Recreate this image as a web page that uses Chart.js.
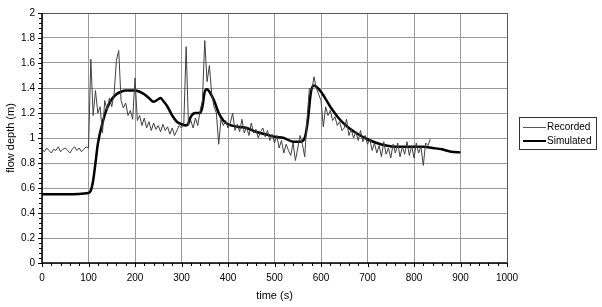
<!DOCTYPE html>
<html>
<head>
<meta charset="utf-8">
<script src="https://cdn.jsdelivr.net/npm/chart.js@4/dist/chart.umd.min.js"></script>
<style>
  body { margin: 0; background: #fff; }
  #wrap { position: relative; width: 602px; height: 307px; }
  #legend {
    position: absolute; left: 519px; top: 117px; width: 76px; height: 31px;
    border: 1px solid #333; font-family: "Liberation Sans", Arial, sans-serif; font-size: 10px; color: #000;
  }
  .row { position: absolute; left: 0; height: 14px; line-height: 14px; }
  .row span.sw { position: absolute; left: 3px; top: 7px; width: 23px; }
  .row span.tx { position: absolute; left: 27px; white-space: nowrap; }
</style>
</head>
<body>
<div id="wrap">
  <canvas id="chart"></canvas>
  <div id="legend">
    <div class="row" style="top:2px"><span class="sw" style="border-top:1px solid #555"></span><span class="tx">Recorded</span></div>
    <div class="row" style="top:16px"><span class="sw" style="border-top:2.5px solid #000;top:6px"></span><span class="tx">Simulated</span></div>
  </div>
</div>
<script>
// recorded flow depth, sampled every 5 s starting at t = 0
const recordedStep = 5;
const recordedDepth = [
  0.91, 0.89, 0.92, 0.90, 0.88, 0.91, 0.90, 0.93, 0.89, 0.91,
  0.92, 0.90, 0.88, 0.91, 0.93, 0.90, 0.92, 0.89, 0.91, 0.93,
  0.92, 1.63, 1.18, 1.38, 1.20, 1.25, 1.04, 1.30, 1.22, 1.32,
  1.25, 1.35, 1.62, 1.70, 1.30, 1.24, 1.28, 1.18, 1.22, 1.15,
  1.48, 1.14, 1.18, 1.10, 1.16, 1.08, 1.13, 1.06, 1.12, 1.07,
  1.10, 1.05, 1.11, 1.06, 1.09, 1.03, 1.08, 1.02, 1.06, 1.10,
  1.08, 1.12, 1.73, 1.10, 1.14, 1.08, 1.16, 1.10, 1.22, 1.30,
  1.78, 1.45, 1.58, 1.35, 1.25, 1.20, 0.95, 1.15, 1.10, 1.14,
  1.08, 1.12, 1.20, 1.06, 1.11, 1.05, 1.15, 1.04, 1.09, 1.02,
  1.12, 1.04, 1.07, 1.00, 1.05, 1.08, 1.01, 1.06, 0.98, 1.03,
  0.96, 1.02, 0.92, 0.98, 0.88, 0.95, 0.90, 0.86, 0.96, 0.82,
  0.92, 1.02, 0.95, 0.85, 1.15, 1.40, 1.38, 1.49, 1.40, 1.35,
  1.30, 1.09, 1.25, 1.18, 1.22, 1.14, 1.17, 1.10, 1.13, 1.06,
  1.08, 1.15, 1.02, 1.07, 1.00, 1.05, 0.98, 1.06, 0.97, 1.02,
  0.95, 0.99, 0.90, 0.96, 0.88, 0.94, 0.85, 0.97, 0.87, 0.92,
  0.84, 0.95, 0.88, 0.96, 0.85, 0.93, 0.87, 0.97, 0.86, 0.94,
  0.84, 0.96, 0.88, 0.93, 0.78, 0.96, 0.94, 0.99
];

const simulatedTime = [0, 50, 100, 105, 110, 115, 120, 130, 140, 150, 160, 170, 180, 200, 210, 220, 230, 240,
  250, 255, 260, 270, 280, 290, 300, 310, 315, 320, 330, 340, 345, 350, 355, 360, 370, 380, 390, 400,
  420, 440, 460, 480, 500, 520, 540, 555, 565, 572, 578, 584, 590, 600, 620, 640, 660, 680, 700, 720,
  740, 760, 780, 800, 820, 840, 860, 880, 900];
const simulatedDepth = [0.55, 0.55, 0.56, 0.58, 0.66, 0.80, 0.95, 1.12, 1.24, 1.31, 1.35, 1.37, 1.38, 1.38, 1.37, 1.35, 1.32, 1.29,
  1.31, 1.32, 1.30, 1.25, 1.18, 1.13, 1.11, 1.10, 1.12, 1.17, 1.20, 1.20, 1.25, 1.37, 1.39, 1.37, 1.30, 1.20, 1.14, 1.11,
  1.09, 1.08, 1.05, 1.03, 1.01, 1.00, 0.97, 0.97, 1.00, 1.15, 1.36, 1.42, 1.41, 1.37, 1.25, 1.15, 1.08, 1.03, 0.99, 0.96,
  0.94, 0.93, 0.93, 0.93, 0.93, 0.92, 0.91, 0.89, 0.885];

const xTicks = [0, 100, 200, 300, 400, 500, 600, 700, 800, 900, 1000];
const yTicks = [0, 0.2, 0.4, 0.6, 0.8, 1, 1.2, 1.4, 1.6, 1.8, 2];

const recorded = recordedDepth.map((v, i) => ({ x: i * recordedStep, y: v }));
const simulated = simulatedTime.map((t, i) => ({ x: t, y: simulatedDepth[i] }));

const fontFam = '"Liberation Sans", Arial, sans-serif';
const plainLabel = v => String(Math.round(v * 100) / 100);

// minor tick marks and the box round the plot
const frame = {
  id: 'frame',
  afterDraw(chart) {
    const { ctx, chartArea: a, scales: { x, y } } = chart;
    ctx.save();
    ctx.strokeStyle = '#555';
    ctx.lineWidth = 1;
    ctx.beginPath();
    ctx.moveTo(a.left, a.top + 0.5); ctx.lineTo(a.right + 0.5, a.top + 0.5); ctx.lineTo(a.right + 0.5, a.bottom);
    ctx.stroke();
    ctx.strokeStyle = '#000';
    ctx.beginPath();
    for (let t = 0; t <= 1000; t += 20) {
      const px = Math.round(x.getPixelForValue(t)) + 0.5;
      ctx.moveTo(px, a.bottom); ctx.lineTo(px, a.bottom + (t % 100 === 0 ? 4 : 3));
    }
    for (let k = 0; k <= 50; k++) {
      const py = Math.round(y.getPixelForValue(k * 0.04)) + 0.5;
      ctx.moveTo(a.left, py); ctx.lineTo(a.left - (k % 5 === 0 ? 4 : 3), py);
    }
    ctx.stroke();
    ctx.beginPath();
    ctx.lineWidth = 1.5;
    ctx.moveTo(a.left, a.top); ctx.lineTo(a.left, a.bottom); ctx.lineTo(a.right, a.bottom);
    ctx.stroke();
    ctx.restore();
  }
};

new Chart(document.getElementById('chart').getContext('2d'), {
  type: 'scatter',
  data: {
    datasets: [{
      label: 'Recorded',
      data: recorded,
      showLine: true,
      borderColor: '#404040',
      borderWidth: 1,
      pointRadius: 0,
      tension: 0
    }, {
      label: 'Simulated',
      data: simulated,
      showLine: true,
      borderColor: '#000',
      borderWidth: 2.5,
      pointRadius: 0,
      cubicInterpolationMode: 'monotone'
    }]
  },
  options: {
    responsive: true,
    maintainAspectRatio: false,
    animation: false,
    layout: { padding: { top: 6, right: 95, left: 0, bottom: 0 } },
    plugins: { legend: { display: false }, tooltip: { enabled: false } },
    scales: {
      x: {
        type: 'linear', min: 0, max: 1000,
        afterBuildTicks: s => { s.ticks = xTicks.map(v => ({ value: v })); },
        afterFit: s => { s.height = 44; },
        grid: { color: '#999', drawTicks: false },
        border: { display: false },
        ticks: { color: '#000', padding: 9, font: { family: fontFam, size: 10 }, maxRotation: 0, callback: plainLabel },
        title: { display: true, text: 'time (s)', color: '#000', font: { family: fontFam, size: 11 }, padding: { top: 2, bottom: 4 } }
      },
      y: {
        min: 0, max: 2,
        afterBuildTicks: s => { s.ticks = yTicks.map(v => ({ value: v })); },
        afterFit: s => { s.width = 42; },
        grid: { color: '#999', drawTicks: false },
        border: { display: false },
        ticks: { color: '#000', padding: 7, font: { family: fontFam, size: 10 }, callback: plainLabel },
        title: { display: true, text: 'flow depth (m)', color: '#000', font: { family: fontFam, size: 11 }, padding: { top: 4, bottom: 2 } }
      }
    }
  },
  plugins: [frame]
});
</script>
</body>
</html>
